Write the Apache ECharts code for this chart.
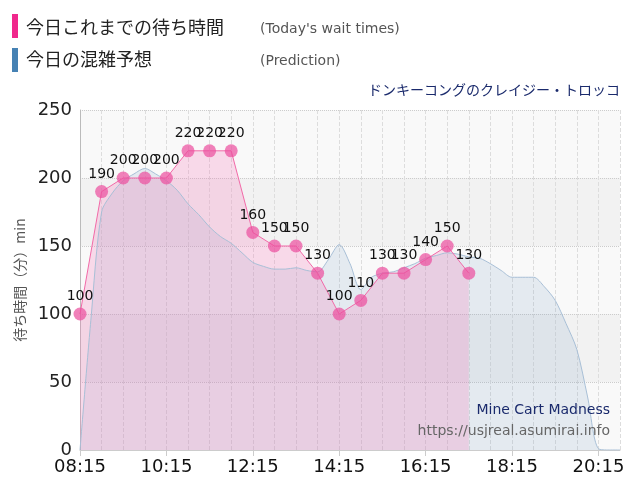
<!DOCTYPE html>
<html>
<head>
	<meta charset="utf-8">
	<script src="https://cdn.jsdelivr.net/npm/echarts@6/dist/echarts.min.js"></script>
	<style>body{margin:0}#c{width:640px;height:500px}</style>
</head>
<body>
<div id="c"></div>
<script>
	// 15 minute slots from 08:15 to 20:45
	var times = [];
	for (var m = 8 * 60 + 15; m <= 20 * 60 + 45; m += 15) {
		times.push(('0' + Math.floor(m / 60)).slice(-2) + ':' + ('0' + (m % 60)).slice(-2));
	}
	var waitTimes = [100, null, 190, null, 200, null, 200, null, 200, null, 220, null, 220, null, 220, null,
		160, null, 150, null, 150, null, 130, null, 100, null, 110, null, 130, null, 130, null, 140, null, 150, null, 130];
	var prediction = [0, 95, 175, 189, 198, 203, 207, 203, 198, 191, 181, 173, 164, 157, 152, 145, 138, 135, 133, 133,
		134, 132, 131, 140, 151, 137, 118, 127, 130, 131, 134, 137, 141, 143, 145, 144, 142, 141, 137, 132,
		127, 127, 127, 120, 110, 93, 74, 39, 1, 0, 0];

	var chart = echarts.init(document.getElementById('c'));
	var font = '"DejaVu Sans", sans-serif';
	chart.setOption({
		animation: false,
		textStyle: { fontFamily: font },
		graphic: [
			{ type: 'rect', left: 12, top: 14, shape: { width: 6, height: 24 }, style: { fill: '#f0288c' } },
			{ type: 'text', left: 26, top: 18, style: { text: '今日これまでの待ち時間', font: '18px "Noto Sans CJK JP"', fill: '#222' } },
			{ type: 'text', left: 260, top: 22, style: { text: "(Today's wait times)", font: '14px ' + font, fill: '#555' } },
			{ type: 'rect', left: 12, top: 48, shape: { width: 6, height: 24 }, style: { fill: '#4682b4' } },
			{ type: 'text', left: 26, top: 50, style: { text: '今日の混雑予想', font: '18px "Noto Sans CJK JP"', fill: '#222' } },
			{ type: 'text', left: 260, top: 54, style: { text: '(Prediction)', font: '14px ' + font, fill: '#555' } },
			{ type: 'text', right: 20, top: 83, style: { text: 'ドンキーコングのクレイジー・トロッコ', font: '14px "Noto Sans CJK JP"', fill: '#1a2a6c' } },
			{ type: 'text', right: 30, top: 403, z: 10, style: { text: 'Mine Cart Madness', font: '14px ' + font, fill: '#1a2a6c' } },
			{ type: 'text', right: 30, top: 424, z: 10, style: { text: 'https://usjreal.asumirai.info', font: '14px ' + font, fill: '#666' } }
		],
		grid: { left: 80, right: 20, top: 110, bottom: 50 },
		xAxis: {
			type: 'category',
			data: times,
			boundaryGap: false,
			axisLine: { lineStyle: { color: '#ccc' } },
			axisTick: { interval: 7, length: 6, lineStyle: { color: '#ccc' } },
			axisLabel: { interval: 7, fontSize: 18, color: '#111', margin: 8 },
			splitLine: { show: true, interval: 1, lineStyle: { color: '#ddd', type: 'dashed' } }
		},
		yAxis: {
			type: 'value',
			min: 0, max: 250, interval: 50,
			name: '待ち時間（分）min',
			nameLocation: 'middle',
			nameGap: 52,
			nameTextStyle: { fontSize: 14, color: '#555', fontFamily: '"Noto Sans CJK JP"' },
			axisLine: { show: true, lineStyle: { color: '#bbb' } },
			axisLabel: { fontSize: 18, color: '#222' },
			splitLine: { lineStyle: { color: '#ccc', type: 'dotted' } },
			splitArea: { show: true, areaStyle: { color: ['#f9f9f9', '#f2f2f2'] } }
		},
		series: [
			{
				type: 'line',
				data: prediction,
				smooth: 0.3,
				symbol: 'none',
				lineStyle: { color: '#a8bfd6', width: 1 },
				areaStyle: { color: 'rgba(110,150,190,0.22)' }
			},
			{
				type: 'line',
				data: waitTimes,
				connectNulls: true,
				showAllSymbol: true,
				symbol: 'circle',
				symbolSize: 13,
				itemStyle: { color: 'rgba(236,80,160,0.72)' },
				lineStyle: { color: '#f26aa8', width: 1 },
				areaStyle: { color: 'rgba(245,120,185,0.35)' },
				label: { show: true, position: 'top', fontSize: 14, color: '#111', distance: 4 },
				labelLayout: { hideOverlap: false },
				z: 3
			}
		]
	});
</script>
</body>
</html>
